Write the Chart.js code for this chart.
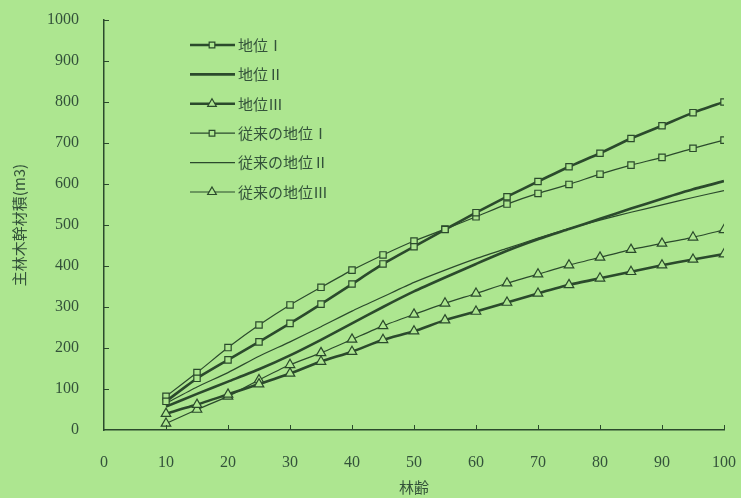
<!DOCTYPE html>
<html>
<head>
<meta charset="utf-8">
<script src="https://cdn.jsdelivr.net/npm/chart.js@4"></script>
<style>
  html, body { margin: 0; padding: 0; background: #ade690; }
  #wrap { width: 741px; height: 498px; }
</style>
</head>
<body>
<div id="wrap"><canvas id="myChart" width="741" height="498"></canvas></div>
<script>
// 林齢 (x) and volumes (y)
const ages = [10, 15, 20, 25, 30, 35, 40, 45, 50, 55, 60, 65, 70, 75, 80, 85, 90, 95, 100];
const chiI   = [70, 126, 171, 215, 260, 307, 356, 405, 447, 489, 530, 569, 606, 642, 675, 711, 742, 774, 800];
const chiII  = [57, 88, 118, 148, 182, 220, 260, 300, 338, 372, 405, 437, 465, 490, 515, 540, 564, 587, 607];
const chiIII = [40, 62, 87, 112, 138, 167, 191, 220, 241, 268, 289, 311, 333, 354, 370, 386, 402, 416, 429];
const oldI   = [82, 140, 201, 256, 305, 348, 390, 427, 461, 490, 520, 551, 577, 599, 624, 646, 665, 687, 707];
const oldII  = [65, 105, 140, 180, 215, 252, 290, 325, 360, 390, 418, 443, 468, 491, 512, 531, 549, 567, 584];
const oldIII = [16, 50, 82, 122, 159, 188, 221, 254, 282, 309, 333, 358, 380, 402, 421, 440, 455, 470, 488];
const labels = ['地位Ⅰ', '地位Ⅱ', '地位Ⅲ', '従来の地位Ⅰ', '従来の地位Ⅱ', '従来の地位Ⅲ'];
const xTicks = [0, 10, 20, 30, 40, 50, 60, 70, 80, 90, 100];
const yTicks = [0, 100, 200, 300, 400, 500, 600, 700, 800, 900, 1000];

const bg = '#ade690';
const ink = '#2b4a2c';
const txt = '#33523a';

const toXY = vals => vals.map((v, i) => ({ x: ages[i], y: v }));

function series(label, vals, thick, style) {
    return {
        label: label,
        data: toXY(vals),
        borderColor: ink,
        borderWidth: thick ? 2.6 : 1.2,
        tension: 0.2,
        pointStyle: style || 'circle',
        pointRadius: style ? (style === 'triangle' ? 5.5 : 4.5) : 0,
        pointBorderWidth: 1.2,
        pointBorderColor: ink,
        pointBackgroundColor: bg
    };
}

// small tick marks pointing into the plot
const innerTicks = {
    id: 'innerTicks',
    afterDraw(chart) {
        const ctx = chart.ctx;
        const x = chart.scales.x, y = chart.scales.y;
        const a = chart.chartArea;
        ctx.save();
        ctx.strokeStyle = ink;
        ctx.lineWidth = 1;
        ctx.beginPath();
        xTicks.slice(1).forEach(v => {
            const px = Math.round(x.getPixelForValue(v)) + 0.5;
            ctx.moveTo(px, a.bottom);
            ctx.lineTo(px, a.bottom - 5);
        });
        yTicks.slice(1).forEach(v => {
            const py = Math.round(y.getPixelForValue(v)) + 0.5;
            ctx.moveTo(a.left, py);
            ctx.lineTo(a.left + 5, py);
        });
        ctx.stroke();
        ctx.restore();
    }
};

// legend drawn in the top-left of the plot, like the original
const boxLegend = {
    id: 'boxLegend',
    afterDatasetsDraw(chart) {
        const ctx = chart.ctx;
        ctx.save();
        chart.data.datasets.forEach((ds, i) => {
            const y = 45 + i * 29.4;
            ctx.strokeStyle = ink;
            ctx.lineWidth = ds.borderWidth;
            ctx.beginPath();
            ctx.moveTo(190, y);
            ctx.lineTo(235, y);
            ctx.stroke();
            if (ds.pointRadius > 0) {
                ctx.fillStyle = bg;
                ctx.lineWidth = 1.2;
                Chart.helpers.drawPoint(ctx, {
                    pointStyle: ds.pointStyle,
                    radius: ds.pointStyle === 'triangle' ? 5 : 4,
                    rotation: 0,
                    borderWidth: 1.2
                }, 212, y);
            }
            ctx.fillStyle = txt;
            ctx.font = '15px "Noto Sans CJK JP"';
            ctx.textBaseline = 'middle';
            ctx.fillText(ds.label, 238, y);
        });
        ctx.restore();
    }
};

const ctx1 = document.getElementById('myChart').getContext('2d');
const myChart = new Chart(ctx1, {
    type: 'line',
    data: {
        datasets: [
            series(labels[0], chiI, true, 'rect'),
            series(labels[1], chiII, true, null),
            series(labels[2], chiIII, true, 'triangle'),
            series(labels[3], oldI, false, 'rect'),
            series(labels[4], oldII, false, null),
            series(labels[5], oldIII, false, 'triangle')
        ]
    },
    options: {
        responsive: false,
        animation: false,
        layout: { padding: { left: 0, right: 17, top: 20, bottom: 0 } },
        plugins: {
            legend: { display: false },
            tooltip: { enabled: false }
        },
        scales: {
            x: {
                type: 'linear',
                min: 0,
                max: 100,
                afterBuildTicks: s => { s.ticks = xTicks.map(v => ({ value: v })); },
                afterFit: s => { s.height = 68; s.paddingLeft = 0; s.paddingRight = 0; },
                grid: { display: false },
                border: { color: ink, width: 1.5 },
                ticks: { color: txt, padding: 15, font: { family: 'Liberation Serif', size: 16 } },
                title: {
                    display: true,
                    text: '林齢',
                    color: txt,
                    padding: { top: 0, bottom: 2 },
                    font: { family: 'Noto Sans CJK JP', size: 15 }
                }
            },
            y: {
                min: 0,
                max: 1000,
                afterBuildTicks: s => { s.ticks = yTicks.map(v => ({ value: v })); },
                afterFit: s => { s.width = 104; s.paddingTop = 0; s.paddingBottom = 0; },
                grid: { display: false },
                border: { color: ink, width: 1.5 },
                ticks: {
                    color: txt,
                    padding: 17,
                    font: { family: 'Liberation Serif', size: 16 },
                    callback: v => String(v)
                },
                title: {
                    display: true,
                    text: '主林木幹材積(m3)',
                    color: txt,
                    padding: { top: 10, bottom: 0 },
                    font: { family: 'Noto Sans CJK JP', size: 15 }
                }
            }
        }
    },
    plugins: [boxLegend, innerTicks]
});
</script>
</body>
</html>
